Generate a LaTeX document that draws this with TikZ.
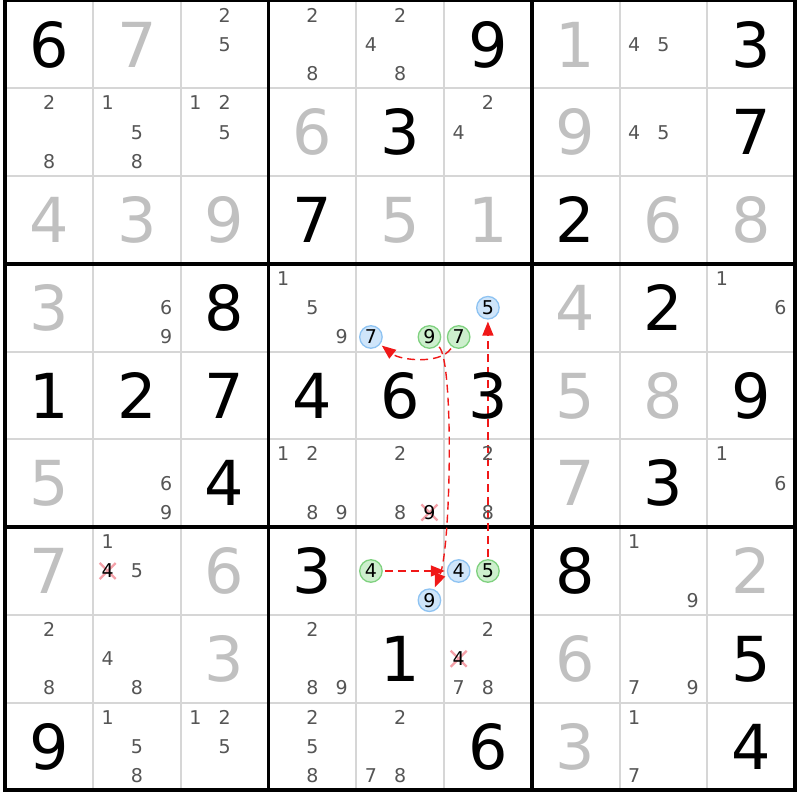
\documentclass[tikz,border=0pt]{standalone}
\usepackage{fontspec}
\setmainfont{DejaVu Sans}
\usetikzlibrary{arrows.meta}
\definecolor{solvedc}{HTML}{C0C0C0}
\definecolor{candc}{HTML}{555555}
\definecolor{thinc}{HTML}{D6D6D6}
\definecolor{bfill}{HTML}{CFE5FA}
\definecolor{bline}{HTML}{8EC3F2}
\definecolor{gfill}{HTML}{CDEFCD}
\definecolor{gline}{HTML}{7FD17F}
\definecolor{xcol}{HTML}{F4A0A8}
\definecolor{linkc}{HTML}{F01818}
\pgfdeclarelayer{gridl}
\pgfdeclarelayer{links}
\pgfsetlayers{gridl,links,main}
\newcommand\givend[4]{\node[#4] (g#1#2) at ({5.3+(#2-0.5)*87.75},{0.6+(#1-0.5)*87.75}) {#3};}
\newcommand\candd[4][cand]{\foreach \d in {#4}{%
  \pgfmathtruncatemacro\cc{mod(\d-1,3)}%
  \pgfmathtruncatemacro\rr{div(\d-1,3)}%
  \node[#1] (c#2#3\d) at ({5.3+(#3-1)*87.75+(\cc+0.5)*29.25},{0.6+(#2-1)*87.75+(\rr+0.5)*29.25}) {\d};}}
\begin{document}
\begin{tikzpicture}[x=1pt,y=-1pt,
  given/.style={font=\fontsize{62}{62}\selectfont, text height=45.2pt, text depth=0pt, inner sep=0pt, text=black},
  solved/.style={given, text=solvedc},
  cand/.style={font=\fontsize{19}{19}\selectfont, text height=13.85pt, text depth=0pt, inner sep=0pt, text=candc},
  hlb/.style={cand, text=black, circle, minimum size=22.5pt, fill=bfill, draw=bline, line width=1.3pt},
  hlg/.style={hlb, fill=gfill, draw=gline},
  elim/.style={cand, text=black},
  xmark/.style={draw=xcol, line width=2.3pt},
  link/.style={draw=linkc, line width=1.4pt, dash pattern=on 8pt off 5pt, -{Triangle[length=14pt,width=11pt]}, shorten >=2pt, shorten <=2pt}
]
\useasboundingbox (0,0) rectangle (800,800);
\begin{pgfonlayer}{gridl}
\fill[white] (0,0) rectangle (800,800);
\foreach \i in {1,2,4,5,7,8}{
  \draw[thinc, line width=2pt] ({5.3+\i*87.75},0.6) -- ({5.3+\i*87.75},790.35);
  \draw[thinc, line width=2pt] (5.3,{0.6+\i*87.75}) -- (795.05,{0.6+\i*87.75});
}
\foreach \i in {0,3,6,9}{
  \draw[black, line width=3.8pt] ({5.3+\i*87.75},-1.3) -- ({5.3+\i*87.75},792.25);
  \draw[black, line width=3.8pt] (3.4,{0.6+\i*87.75}) -- (796.95,{0.6+\i*87.75});
}
\end{pgfonlayer}
% row 1
\givend{1}{1}{6}{given} \givend{1}{2}{7}{solved} \candd{1}{3}{2,5} \candd{1}{4}{2,8}
\candd{1}{5}{2,4,8} \givend{1}{6}{9}{given} \givend{1}{7}{1}{solved} \candd{1}{8}{4,5} \givend{1}{9}{3}{given}
% row 2
\candd{2}{1}{2,8} \candd{2}{2}{1,5,8} \candd{2}{3}{1,2,5} \givend{2}{4}{6}{solved} \givend{2}{5}{3}{given}
\candd{2}{6}{2,4} \givend{2}{7}{9}{solved} \candd{2}{8}{4,5} \givend{2}{9}{7}{given}
% row 3
\givend{3}{1}{4}{solved} \givend{3}{2}{3}{solved} \givend{3}{3}{9}{solved} \givend{3}{4}{7}{given}
\givend{3}{5}{5}{solved} \givend{3}{6}{1}{solved} \givend{3}{7}{2}{given} \givend{3}{8}{6}{solved} \givend{3}{9}{8}{solved}
% row 4
\givend{4}{1}{3}{solved} \candd{4}{2}{6,9} \givend{4}{3}{8}{given} \candd{4}{4}{1,5,9}
\candd[hlb]{4}{5}{7} \candd[hlg]{4}{5}{9} \candd[hlb]{4}{6}{5} \candd[hlg]{4}{6}{7}
\givend{4}{7}{4}{solved} \givend{4}{8}{2}{given} \candd{4}{9}{1,6}
% row 5
\givend{5}{1}{1}{given} \givend{5}{2}{2}{given} \givend{5}{3}{7}{given} \givend{5}{4}{4}{given}
\givend{5}{5}{6}{given} \givend{5}{6}{3}{given} \givend{5}{7}{5}{solved} \givend{5}{8}{8}{solved} \givend{5}{9}{9}{given}
% row 6
\givend{6}{1}{5}{solved} \candd{6}{2}{6,9} \givend{6}{3}{4}{given} \candd{6}{4}{1,2,8,9}
\candd{6}{5}{2,8} \candd[elim]{6}{5}{9} \candd{6}{6}{2,8} \givend{6}{7}{7}{solved} \givend{6}{8}{3}{given} \candd{6}{9}{1,6}
% row 7
\givend{7}{1}{7}{solved} \candd{7}{2}{1,5} \candd[elim]{7}{2}{4} \givend{7}{3}{6}{solved} \givend{7}{4}{3}{given}
\candd[hlg]{7}{5}{4} \candd[hlb]{7}{5}{9} \candd[hlb]{7}{6}{4} \candd[hlg]{7}{6}{5}
\givend{7}{7}{8}{given} \candd{7}{8}{1,9} \givend{7}{9}{2}{solved}
% row 8
\candd{8}{1}{2,8} \candd{8}{2}{4,8} \givend{8}{3}{3}{solved} \candd{8}{4}{2,8,9} \givend{8}{5}{1}{given}
\candd{8}{6}{2,7,8} \candd[elim]{8}{6}{4} \givend{8}{7}{6}{solved} \candd{8}{8}{7,9} \givend{8}{9}{5}{given}
% row 9
\givend{9}{1}{9}{given} \candd{9}{2}{1,5,8} \candd{9}{3}{1,2,5} \candd{9}{4}{2,5,8} \candd{9}{5}{2,7,8}
\givend{9}{6}{6}{given} \givend{9}{7}{3}{solved} \candd{9}{8}{1,7} \givend{9}{9}{4}{given}
\begin{pgfonlayer}{links}
\foreach \n in {c659,c724,c864}{
  \draw[xmark] (\n.center) +(-8,-8) -- +(8,8);
  \draw[xmark] (\n.center) +(-8,8) -- +(8,-8);
}
\draw[link] (c754) -- (c764);
\draw[link] (c765) -- (c465);
\draw[link] (c467) .. controls (440,365) and (400,360) .. (c457);
\draw[link] (c459) .. controls (454,362) and (451,548) .. (c759);
\end{pgfonlayer}
\end{tikzpicture}
\end{document}
